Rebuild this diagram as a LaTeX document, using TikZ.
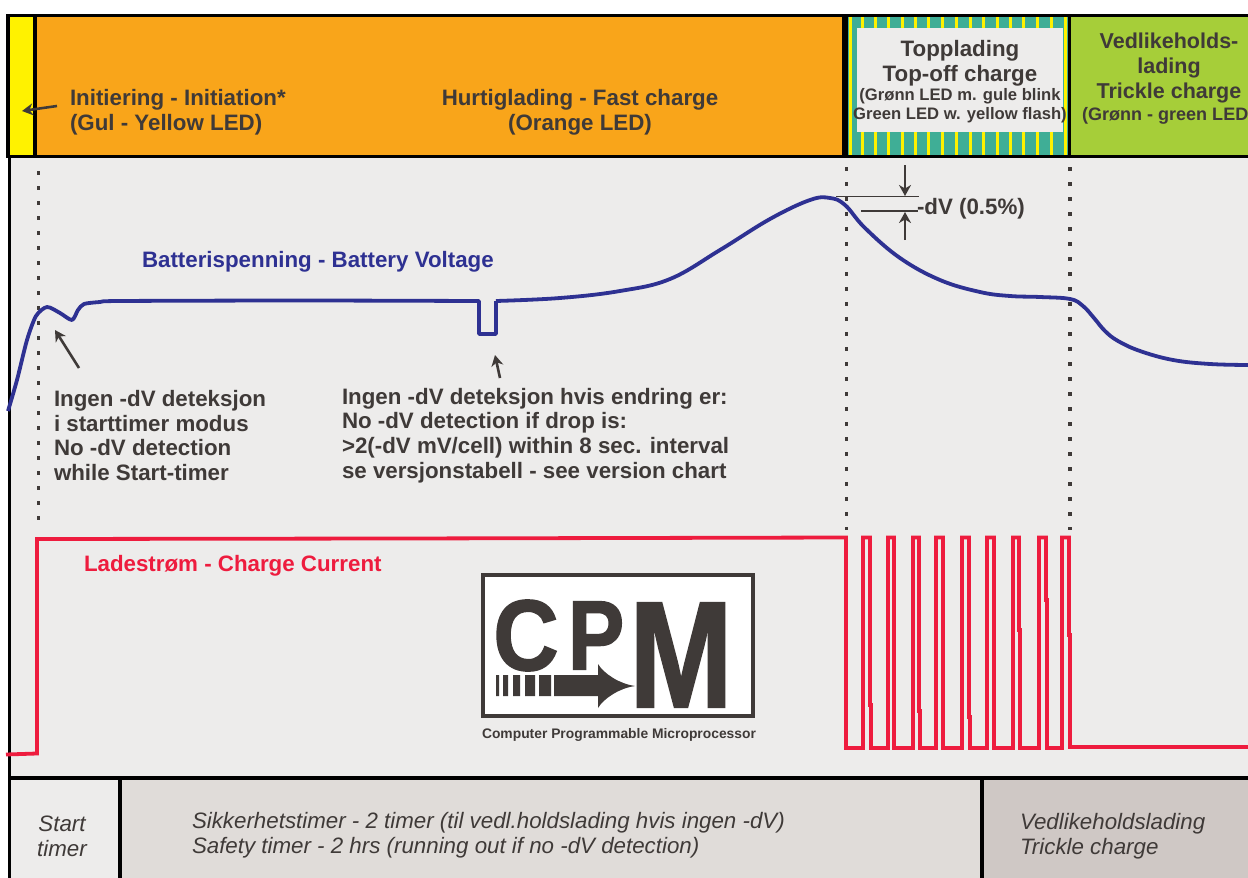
\documentclass[tikz,border=0pt]{standalone}
\usepackage{fontspec}
\setmainfont{Liberation Sans}
\newfontfamily\logofont[FakeBold=1.5]{Liberation Sans Bold}
\usetikzlibrary{arrows.meta}
\definecolor{ink}{HTML}{3F3A38}
\definecolor{bgpanel}{HTML}{EDECEB}
\definecolor{ledyellow}{HTML}{FFF200}
\definecolor{ledorange}{HTML}{F9A51A}
\definecolor{ledgreen}{HTML}{A6CE39}
\definecolor{ledteal}{HTML}{3FAE96}
\definecolor{voltblue}{HTML}{2E3192}
\definecolor{currred}{HTML}{EE1C3E}
\definecolor{paneltwo}{HTML}{E0DCD9}
\definecolor{panelthree}{HTML}{CFC8C5}
\newcommand{\bigbold}{\fontsize{22.4}{25}\selectfont\bfseries}
\newcommand{\notebold}{\fontsize{22.4}{24.7}\selectfont\bfseries}
\newcommand{\smallbold}{\fontsize{16.7}{19}\selectfont\bfseries}
\newcommand{\ital}{\fontsize{22.4}{25.5}\selectfont\itshape}
\tikzset{
  x=1bp,y=-1bp,
  lbl/.style={inner sep=0pt,outer sep=0pt,text=ink,font=\bigbold},
  itlbl/.style={inner sep=0pt,outer sep=0pt,text=ink,font=\ital},
  rule/.style={draw=black,line width=3.2bp},
  dotline/.style={draw=ink,line width=3.5bp,dash pattern=on 3.5bp off 11.5bp},
  thinarrow/.style={draw=ink,line width=2.6bp,-{Stealth[length=11bp,width=12bp,inset=3.5bp]}},
  thinline/.style={draw=ink,line width=1.4bp},
  volt/.style={draw=voltblue,line width=3.8bp,line join=round},
  curr/.style={draw=currred,line width=3.8bp,line join=miter},
  logoletter/.style={inner sep=0pt,text=ink},
}
\begin{document}
\begin{tikzpicture}
\useasboundingbox (0,0) rectangle (1248,878);
\fill[white] (0,0) rectangle (1248,878);
% panels
\fill[bgpanel] (9,157) rectangle (1248,878);
\fill[paneltwo] (120,778) rectangle (982,878);
\fill[panelthree] (982,778) rectangle (1248,878);
\fill[ledyellow] (9,15) rectangle (35,156);
\fill[ledorange] (35,15) rectangle (843,156);
\fill[ledteal] (848,15) rectangle (1069,156);
\foreach \sx in {850,862,875,888,902,915,928,942,956,970,983,997,1010,1023,1037,1051,1065}
  \fill[ledyellow] (\sx-1.5,17) rectangle (\sx+1.5,155);
\fill[bgpanel] (857,28) rectangle (1063,132);
\fill[ledgreen] (1070,15) rectangle (1248,156);
% frame rules
\draw[rule] (1248,15.5) -- (8,15.5) -- (8,156.5) -- (1248,156.5);
\draw[rule] (35,15) -- (35,157);
\draw[black,line width=6bp] (845,15) -- (845,157);
\draw[rule] (1069.5,15) -- (1069.5,157);
\draw[rule] (9.5,157) -- (9.5,878);
\draw[rule] (8,778) -- (1248,778);
\draw[rule] (120,778) -- (120,878);
\draw[rule] (982,778) -- (982,878);
% dotted
\draw[dotline] (38.5,171) -- (38.5,520);
\draw[dotline] (846.5,167) -- (846.5,530);
\draw[dotline] (1070,167) -- (1070,530);
% voltage
\draw[volt] plot[smooth,tension=0.45] coordinates {(8,411) (17,380) (27,340) (36,316) (47,307) (60,313) (72,320) (78,310) (84,304) (100,302) (120,301) (300,300.5) (477,301)} -- (479,301) -- (479,334) -- (496,334) -- (496,301);
\draw[volt] plot[smooth,tension=0.65] coordinates {(496,301) (560,298) (620,291) (670,279) (720,250) (770,219) (810,200) (830,198) (845,205) (865,228) (900,258) (940,280) (980,292) (1010,296) (1040,297) (1070,299) (1083,306) (1094,318) (1105,331) (1118,341) (1140,351) (1173,360) (1210,364) (1248,365)};
% current
\draw[curr] (6,754.5) -- (37,753.5) -- (37,539) -- (400,538.5) -- (846,537.5) -- (846,748)
 -- (863,748) -- (863,537.5) -- (870,537.5) -- (870,705) -- (871,705) -- (871,748)
 -- (888,748) -- (888,537.5) -- (894,537.5) -- (894,748)
 -- (913,748) -- (913,537.5) -- (919,537.5) -- (919,711) -- (920,711) -- (920,748)
 -- (936,748) -- (936,537.5) -- (943,537.5) -- (943,748)
 -- (962,748) -- (962,537.5) -- (969,537.5) -- (969,717) -- (970,717) -- (970,748)
 -- (987,748) -- (987,537.5) -- (994,537.5) -- (994,748)
 -- (1013,748) -- (1013,537.5) -- (1019,537.5) -- (1019,630) -- (1020,630) -- (1020,748)
 -- (1039,748) -- (1039,537.5) -- (1046,537.5) -- (1046,600) -- (1047,600) -- (1047,748)
 -- (1062,748) -- (1062,537.5) -- (1069,537.5) -- (1069,635) -- (1070,635) -- (1070,747) -- (1248,747);
% arrows
\coordinate (initA) at (57,106); \coordinate (initB) at (22,111);
\draw[thinarrow] (initA) -- (initB);
\coordinate (noA) at (79,368); \coordinate (noB) at (55,330);
\draw[thinarrow] (noA) -- (noB);
\coordinate (dipA) at (500,378); \coordinate (dipB) at (495,355);
\draw[thinarrow] (dipA) -- (dipB);
\coordinate (dvT) at (905,165); \coordinate (dvU) at (905,196);
\coordinate (dvB) at (905,240); \coordinate (dvL) at (905,212);
\draw[thinarrow] (dvT) -- (dvU);
\draw[thinarrow] (dvB) -- (dvL);
\coordinate (dvLa) at (836,196.5); \coordinate (dvLb) at (919,196.5);
\coordinate (dvLc) at (861,211); \coordinate (dvLd) at (918,211);
\draw[thinline] (dvLa) -- (dvLb);
\draw[thinline] (dvLc) -- (dvLd);
% header text
\node[lbl,anchor=west,align=left] (init) at (70,112) {Initiering - Initiation*\\(Gul - Yellow LED)};
\node[lbl,align=center] (fast) at (580,112) {Hurtiglading - Fast charge\\(Orange LED)};
\node[lbl,align=center] (topoff) at (960,63) {Topplading\\Top-off charge};
\node[lbl,font=\smallbold,align=center] (topoffled) at (960,106) {(Grønn LED m. gule blink\\Green LED w. yellow flash)};
\node[lbl,font=\fontsize{21.6}{25}\selectfont\bfseries,align=center] (trickle) at (1169,68) {Vedlikeholds-\\lading\\Trickle charge};
\node[lbl,anchor=west] (trickleled) at (1082,116) {\fontsize{18.1}{19}\selectfont(Grønn - green LED};
\node[lbl,anchor=west] (dv) at (917,209) {-dV (0.5\%)};
% curve labels
\node[lbl,text=voltblue,anchor=west] (vlabel) at (142,262) {Batterispenning - Battery Voltage};
\node[lbl,text=currred,anchor=west] (clabel) at (84,566) {Ladestrøm - Charge Current};
\node[lbl,font=\notebold,anchor=west,align=left] (note1) at (54,435.5) {Ingen -dV deteksjon\\i starttimer modus\\No -dV detection\\while Start-timer};
\node[lbl,font=\notebold,anchor=west,align=left] (note2) at (342,435.5) {Ingen -dV deteksjon hvis endring er:\\No -dV detection if drop is:\\>2(-dV mV/cell) within 8 sec. interval\\se versjonstabell - see version chart};
% logo
\node[draw=ink,line width=4bp,fill=white,minimum width=270bp,minimum height=141bp,inner sep=0pt] (logo) at (618,645.5) {};
\node[logoletter,font=\fontsize{101}{101}\logofont,xscale=0.9] (logoC) at (526,635.5) {C};
\node[logoletter,font=\fontsize{99}{99}\logofont,xscale=0.86] (logoP) at (596,635.5) {P};
\node[logoletter,font=\fontsize{152}{152}\logofont,xscale=0.82] (logoM) at (681,655) {M};
\fill[ink] (496,675) rectangle (499,696) (503,675) rectangle (508,696) (513,675) rectangle (520,696) (525,675) rectangle (535,696) (539,675) rectangle (551,696);
\fill[ink] (554,675) -- (598,675) -- (598,664) .. controls (604,674) and (620,684) .. (635,686) .. controls (620,688) and (604,698) .. (598,708) -- (598,696) -- (554,696) -- cycle;
\node[lbl,font=\fontsize{13.9}{15}\selectfont\bfseries] (logotext) at (619,735) {Computer Programmable Microprocessor};
% bottom
\node[itlbl,align=center] (starttimer) at (62,836.5) {Start\\timer};
\node[itlbl,anchor=west,align=left] (safety) at (192,835) {Sikkerhetstimer - 2 timer (til vedl.holdslading hvis ingen -dV)\\Safety timer - 2 hrs (running out if no -dV detection)};
\node[itlbl,anchor=west,align=left] (tricklebar) at (1020,836) {Vedlikeholdslading\\Trickle charge};
\end{tikzpicture}
\end{document}
